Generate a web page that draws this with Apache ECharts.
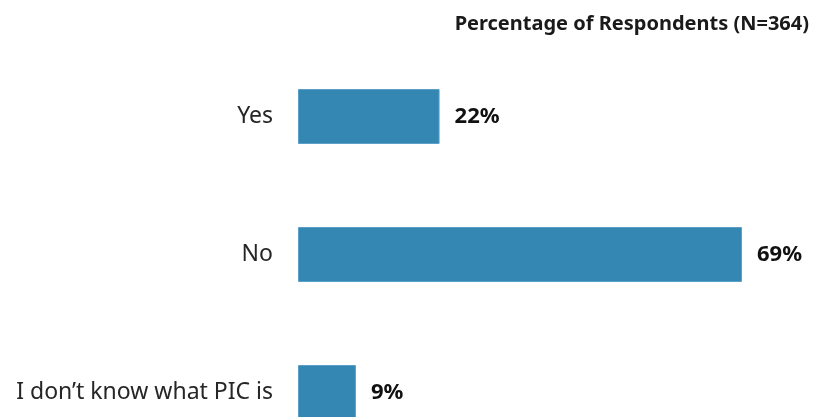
<!DOCTYPE html>
<html>
<head>
<meta charset="utf-8">
<script src="https://cdn.jsdelivr.net/npm/echarts@6/dist/echarts.min.js"></script>
<style>
  html, body { margin: 0; padding: 0; background: #fff; }
  #chart { width: 817px; height: 417px; }
</style>
</head>
<body>
<div id="chart"></div>
<script>
// Survey answers and the share of respondents giving each one
const categories = ['Yes', 'No', 'I don\u2019t know what PIC is'];
const percentages = [22, 69, 9];
const titleText = 'Percentage of Respondents (N=364)';

const chart = echarts.init(document.getElementById('chart'), null, { renderer: 'canvas' });

chart.setOption({
  animation: false,
  title: {
    text: titleText,
    right: 3,
    top: 9,
    textStyle: {
      fontFamily: 'Noto Sans',
      fontWeight: 'bold',
      fontSize: 20,
      color: '#1a1a1a'
    }
  },
  // category centres sit on the grid edges (boundaryGap off), so the
  // last bar runs down past the bottom of the canvas
  grid: {
    left: 298,
    top: 116.5,
    width: 514.8,
    height: 276
  },
  xAxis: {
    type: 'value',
    min: 0,
    max: 80,
    show: false
  },
  yAxis: {
    type: 'category',
    data: categories,
    inverse: true,
    boundaryGap: false,
    axisLine: { show: false },
    axisTick: { show: false },
    splitLine: { show: false },
    axisLabel: {
      margin: 25,
      fontFamily: 'Noto Sans',
      fontSize: 23,
      color: '#262626'
    }
  },
  series: [{
    type: 'bar',
    data: percentages,
    barWidth: 55,
    clip: false,
    itemStyle: {
      color: '#3387b2',
      borderColor: '#5aa0c8',
      borderWidth: 1
    },
    label: {
      show: true,
      position: 'right',
      distance: 15,
      formatter: '{c}%',
      fontFamily: 'Noto Sans',
      fontWeight: 'bold',
      fontSize: 22,
      color: '#111'
    }
  }]
});
</script>
</body>
</html>
